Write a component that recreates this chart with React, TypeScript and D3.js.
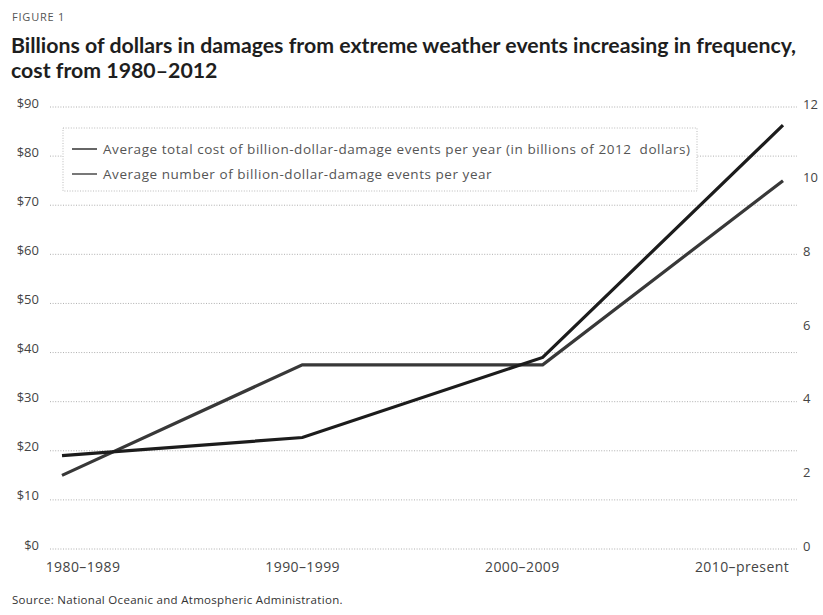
import React from "react";
import * as d3 from "d3";

const categories = ["1980–1989", "1990–1999", "2000–2009", "2010–present"];
const costValues = [19, 22.7, 39, 86.3];
const eventValues = [2.0, 5.0, 5.0, 10.0];
const leftTicks = [0, 10, 20, 30, 40, 50, 60, 70, 80, 90];
const rightTicks = [0, 2, 4, 6, 8, 10, 12];
const legendLabels = [
  "Average total cost of billion-dollar-damage events per year (in billions of 2012  dollars)",
  "Average number of billion-dollar-damage events per year",
];
const seriesColors = ["#1c1c1c", "#383838"];
const titleLines = [
  "Billions of dollars in damages from extreme weather events increasing in frequency,",
  "cost from 1980–2012",
];
const figureLabel = "FIGURE 1";
const sourceText = "Source: National Oceanic and Atmospheric Administration.";

const W = 823;
const H = 615;
const plotTop = 107;
const plotBottom = 549;
const gridLeft = 50;
const gridRight = 797;

export default function App() {
  const x = d3.scalePoint<string>().domain(categories).range([62, 783]).padding(0);
  const xLabel = d3.scalePoint<string>().domain(categories).range([83, 742]).padding(0);
  const yLeft = d3.scaleLinear().domain([0, 90]).range([plotBottom, plotTop]);
  const yRight = d3.scaleLinear().domain([0, 12]).range([plotBottom, plotTop]);

  const costLine = d3
    .line<number>()
    .x((_, i) => x(categories[i]) as number)
    .y((d) => yLeft(d));
  const eventLine = d3
    .line<number>()
    .x((_, i) => x(categories[i]) as number)
    .y((d) => yRight(d));

  const font = "'Open Sans', 'Noto Sans', sans-serif";

  return (
    <svg
      width={W}
      height={H}
      viewBox={`0 0 ${W} ${H}`}
      style={{ position: "absolute", left: 0, top: 0, background: "#fff" }}
    >
      <rect x={0} y={0} width={W} height={H} fill="#fff" />
      <text x={12} y={21} fontFamily={font} fontSize={11} fill="#555" letterSpacing={0.8}>
        {figureLabel}
      </text>
      {titleLines.map((t, i) => (
        <text
          key={i}
          x={11}
          y={53 + i * 25}
          fontFamily="Lato, 'Open Sans', sans-serif"
          fontWeight={700}
          fontSize={21.3}
          fill="#1e1e1e"
        >
          {t}
        </text>
      ))}

      {/* gridlines */}
      {leftTicks.map((t) => (
        <line
          key={t}
          x1={gridLeft}
          x2={gridRight}
          y1={yLeft(t)}
          y2={yLeft(t)}
          stroke="#9a9a9a"
          strokeWidth={0.8}
          strokeDasharray="1,1.6"
        />
      ))}
      {/* left axis labels */}
      {leftTicks.map((t) => (
        <text
          key={t}
          x={39}
          y={yLeft(t) + 0.5}
          textAnchor="end"
          fontFamily={font}
          fontSize={13}
          fill="#444"
        >
          {"$" + t}
        </text>
      ))}
      {/* right axis labels */}
      {rightTicks.map((t) => (
        <text
          key={t}
          x={803}
          y={yRight(t) + 1.5}
          textAnchor="start"
          fontFamily={font}
          fontSize={13}
          fill="#444"
        >
          {t}
        </text>
      ))}
      {/* x labels */}
      {categories.map((c) => (
        <text
          key={c}
          x={xLabel(c)}
          y={572}
          textAnchor="middle"
          fontFamily={font}
          fontSize={14}
          letterSpacing={0.4}
          fill="#444"
        >
          {c}
        </text>
      ))}

      {/* legend */}
      <rect
        x={63}
        y={128}
        width={634}
        height={63}
        fill="#fff"
        stroke="#aaa"
        strokeWidth={0.8}
        strokeDasharray="1,1.6"
      />
      {legendLabels.map((l, i) => (
        <g key={i} transform={`translate(72, ${149 + i * 25})`}>
          <line x1={0} x2={25} y1={0} y2={0} stroke={seriesColors[i]} strokeWidth={1.8} opacity={0.75} />
          <text
            x={31}
            y={4.5}
            fontFamily={font}
            fontSize={13.5}
            letterSpacing={0.55}
            fill="#555"
            style={{ whiteSpace: "pre" }}
          >
            {l}
          </text>
        </g>
      ))}

      {/* series */}
      <path d={eventLine(eventValues) || ""} fill="none" stroke={seriesColors[1]} strokeWidth={3.2} strokeLinejoin="miter" />
      <path d={costLine(costValues) || ""} fill="none" stroke={seriesColors[0]} strokeWidth={3.2} strokeLinejoin="miter" />

      <text x={12} y={604} fontFamily={font} fontSize={11.5} letterSpacing={0.3} fill="#333">
        {sourceText}
      </text>
    </svg>
  );
}
